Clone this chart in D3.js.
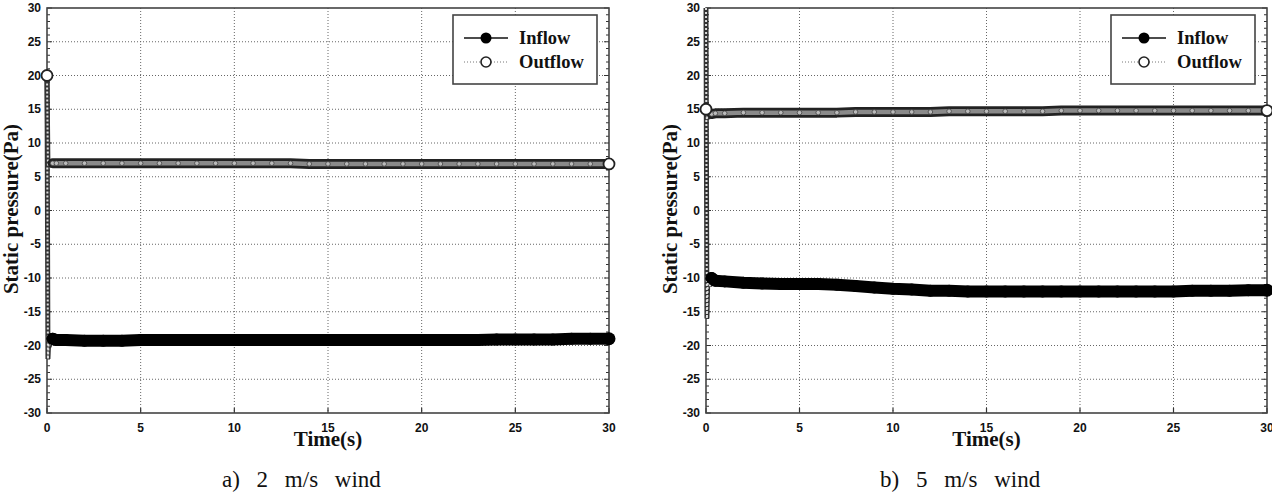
<!DOCTYPE html>
<html lang="en">
<head>
    <meta charset="UTF-8">
    <title>static pressure</title>
    <style>
        body { margin: 0; background: #fff; }
        .tick-label { font-family: "Liberation Sans", Arial, sans-serif; font-weight: bold; font-size: 12px; fill: #111; }
        .axis-title { font-family: "Liberation Serif", "Times New Roman", serif; font-weight: bold; font-size: 21px; fill: #111; }
        .legend-text { font-family: "Liberation Serif", "Times New Roman", serif; font-weight: bold; font-size: 18.5px; fill: #111; }
        .caption { font-family: "Liberation Serif", "Times New Roman", serif; font-size: 23px; fill: #111; word-spacing: 11px; }
    </style>
</head>
<body>
    <div id="chart"></div>
    <script src="https://cdn.jsdelivr.net/npm/d3@7/dist/d3.min.js"></script>
    <script>

        // time stamps (s), shared by all series
        var timeS = [
            0, 0.05, 0.1, 0.2, 0.3, 0.5,
            1, 2, 3, 4, 5, 6,
            7, 8, 9, 10, 11, 12,
            13, 14, 15, 16, 17, 18,
            19, 20, 21, 22, 23, 24,
            25, 26, 27, 28, 29, 30
        ];

        // a) 2 m/s wind
        var inflow2 = [
            20, -22, -18.6, -19.6, -19.0, -19.2,
            -19.2, -19.3, -19.3, -19.3, -19.2, -19.2,
            -19.2, -19.2, -19.2, -19.2, -19.2, -19.2,
            -19.2, -19.2, -19.2, -19.2, -19.2, -19.2,
            -19.2, -19.2, -19.2, -19.2, -19.2, -19.1,
            -19.1, -19.1, -19.1, -19.0, -19.0, -19.0
        ];
        var outflow2 = [
            20, 6.5, 7.0, 6.8, 7.0, 7.0,
            7.0, 7.0, 7.0, 7.0, 7.0, 7.0,
            7.0, 7.0, 7.0, 7.0, 7.0, 7.0,
            7.0, 6.9, 6.9, 6.9, 6.9, 6.9,
            6.9, 6.9, 6.9, 6.9, 6.9, 6.9,
            6.9, 6.9, 6.9, 6.9, 6.9, 6.9
        ];

        // b) 5 m/s wind
        var inflow5 = [
            30, -16, -9.3, -11.2, -10.0, -10.4,
            -10.5, -10.7, -10.8, -10.9, -10.9, -10.9,
            -11.0, -11.2, -11.4, -11.6, -11.7, -11.9,
            -11.9, -12.0, -12.0, -12.0, -12.0, -12.0,
            -12.0, -12.0, -12.0, -12.0, -12.0, -12.0,
            -12.0, -11.9, -11.9, -11.9, -11.8, -11.8
        ];
        var outflow5 = [
            15, 13.5, 14.2, 14.0, 14.3, 14.4,
            14.4, 14.5, 14.5, 14.5, 14.5, 14.5,
            14.5, 14.6, 14.6, 14.6, 14.6, 14.6,
            14.7, 14.7, 14.7, 14.7, 14.7, 14.7,
            14.8, 14.8, 14.8, 14.8, 14.8, 14.8,
            14.8, 14.8, 14.8, 14.8, 14.8, 14.8
        ];

        var xTicks = [0, 5, 10, 15, 20, 25, 30];
        var yTicks = [-30, -25, -20, -15, -10, -5, 0, 5, 10, 15, 20, 25, 30];
        var seriesNames = ["Inflow", "Outflow"];
        var captions = ["a) 2 m/s wind", "b) 5 m/s wind"];

        var width = 1272, height = 492;

        var svg = d3.select("#chart").append("svg")
            .attr("width", width)
            .attr("height", height);

        svg.append("rect").attr("width", width).attr("height", height).attr("fill", "#fff");

        var panels = [
            { x0: 47, x1: 609, inflow: inflow2, outflow: outflow2, caption: captions[0], capX: 222 },
            { x0: 706, x1: 1267, inflow: inflow5, outflow: outflow5, caption: captions[1], capX: 880 }
        ];

        var yTop = 8, yBottom = 413;

        panels.forEach(function(p) {
            var x = d3.scaleLinear().domain([0, 30]).range([p.x0, p.x1]);
            var y = d3.scaleLinear().domain([-30, 30]).range([yBottom, yTop]);
            var g = svg.append("g");

            // grid
            g.selectAll(".gx").data(xTicks.slice(1, -1)).enter().append("line")
                .attr("x1", d => x(d)).attr("x2", d => x(d))
                .attr("y1", yTop).attr("y2", yBottom)
                .attr("stroke", "#666").attr("stroke-width", 1).attr("stroke-dasharray", "1,2");
            g.selectAll(".gy").data(yTicks.slice(1, -1)).enter().append("line")
                .attr("y1", d => y(d)).attr("y2", d => y(d))
                .attr("x1", p.x0).attr("x2", p.x1)
                .attr("stroke", "#666").attr("stroke-width", 1).attr("stroke-dasharray", "1,2");

            // minor / major ticks on left and right sides
            var yMinor = d3.range(-30, 31, 1);
            [p.x0, p.x1].forEach(function(ax, k) {
                var dir = k === 0 ? 1 : -1;
                g.selectAll(null).data(yMinor).enter().append("line")
                    .attr("x1", ax).attr("x2", d => ax + dir * (d % 5 === 0 ? 5 : 3))
                    .attr("y1", d => y(d)).attr("y2", d => y(d))
                    .attr("stroke", "#333").attr("stroke-width", 1);
            });
            g.selectAll(null).data(xTicks).enter().append("line")
                .attr("x1", d => x(d)).attr("x2", d => x(d))
                .attr("y1", yBottom).attr("y2", yBottom - 5)
                .attr("stroke", "#333").attr("stroke-width", 1.2);

            // frame
            g.append("rect")
                .attr("x", p.x0).attr("y", yTop)
                .attr("width", p.x1 - p.x0).attr("height", yBottom - yTop)
                .attr("fill", "none").attr("stroke", "#444").attr("stroke-width", 1.6);

            // tick labels
            g.selectAll(null).data(yTicks).enter().append("text")
                .attr("class", "tick-label")
                .attr("x", p.x0 - 6).attr("y", d => y(d)).attr("dy", "0.35em")
                .attr("text-anchor", "end")
                .text(d => d);
            g.selectAll(null).data(xTicks).enter().append("text")
                .attr("class", "tick-label")
                .attr("x", d => x(d)).attr("y", 432)
                .attr("text-anchor", "middle")
                .text(d => d);

            // titles
            g.append("text").attr("class", "axis-title")
                .attr("transform", "translate(" + (p.x0 - 29) + ",209) rotate(-90)")
                .attr("text-anchor", "middle")
                .text("Static pressure(Pa)");
            g.append("text").attr("class", "axis-title")
                .attr("x", (p.x0 + p.x1) / 2).attr("y", 446)
                .attr("text-anchor", "middle")
                .text("Time(s)");
            g.append("text").attr("class", "caption")
                .attr("x", p.capX).attr("y", 487)
                .text(p.caption);

            var line = d3.line().x(d => x(d[0])).y(d => y(d[1]));
            var inPts = timeS.map((t, i) => [t, p.inflow[i]]);
            var outPts = timeS.map((t, i) => [t, p.outflow[i]]);

            // start transients drawn as a "ladder" of dense markers
            [inPts, outPts].forEach(function(pts) {
                g.append("path").attr("d", line(pts.slice(0, 6)))
                    .attr("fill", "none").attr("stroke", "#333").attr("stroke-width", 5);
                g.append("path").attr("d", line(pts.slice(0, 6)))
                    .attr("fill", "none").attr("stroke", "#ddd").attr("stroke-width", 2)
                    .attr("stroke-dasharray", "2,2");
            });

            // inflow: dense black band
            g.append("path").attr("d", line(inPts.slice(4)))
                .attr("fill", "none").attr("stroke", "#000").attr("stroke-width", 12)
                .attr("stroke-linecap", "round").attr("stroke-linejoin", "round");
            g.selectAll(null).data(inPts.slice(4)).enter().append("circle")
                .attr("cx", d => x(d[0])).attr("cy", d => y(d[1]))
                .attr("r", (d, i, n) => i === n.length - 1 ? 6.5 : 6)
                .attr("fill", "#000");

            // outflow: gray band with ring markers
            g.append("path").attr("d", line(outPts.slice(4)))
                .attr("fill", "none").attr("stroke", "#222").attr("stroke-width", 10)
                .attr("stroke-linecap", "round").attr("stroke-linejoin", "round");
            g.append("path").attr("d", line(outPts.slice(4)))
                .attr("fill", "none").attr("stroke", "#8a8a8a").attr("stroke-width", 4.5);
            g.selectAll(null).data(outPts.slice(4, -1)).enter().append("circle")
                .attr("cx", d => x(d[0])).attr("cy", d => y(d[1]))
                .attr("r", 2.3).attr("fill", "#bbb").attr("stroke", "#444").attr("stroke-width", 0.8);
            g.selectAll(null).data([outPts[0], outPts[outPts.length - 1]]).enter().append("circle")
                .attr("cx", d => x(d[0])).attr("cy", d => y(d[1]))
                .attr("r", 5.5).attr("fill", "#fff").attr("stroke", "#222").attr("stroke-width", 1.8);

            // legend
            var lx = p.x1 - 156, ly = 15;
            var lg = g.append("g").attr("transform", "translate(" + lx + "," + ly + ")");
            lg.append("rect").attr("width", 144).attr("height", 69)
                .attr("fill", "#fff").attr("stroke", "#444").attr("stroke-width", 1.6);
            lg.append("line").attr("x1", 11).attr("x2", 55).attr("y1", 23).attr("y2", 23)
                .attr("stroke", "#111").attr("stroke-width", 1.5);
            lg.append("circle").attr("cx", 33).attr("cy", 23).attr("r", 5.5).attr("fill", "#000");
            lg.append("line").attr("x1", 11).attr("x2", 55).attr("y1", 47).attr("y2", 47)
                .attr("stroke", "#777").attr("stroke-width", 1).attr("stroke-dasharray", "1,2");
            lg.append("circle").attr("cx", 33).attr("cy", 47).attr("r", 5)
                .attr("fill", "#fff").attr("stroke", "#222").attr("stroke-width", 1.6);
            lg.selectAll(null).data(seriesNames).enter().append("text")
                .attr("class", "legend-text")
                .attr("x", 66).attr("y", (d, i) => 29 + i * 24)
                .text(d => d);
        });
    </script>
</body>
</html>
